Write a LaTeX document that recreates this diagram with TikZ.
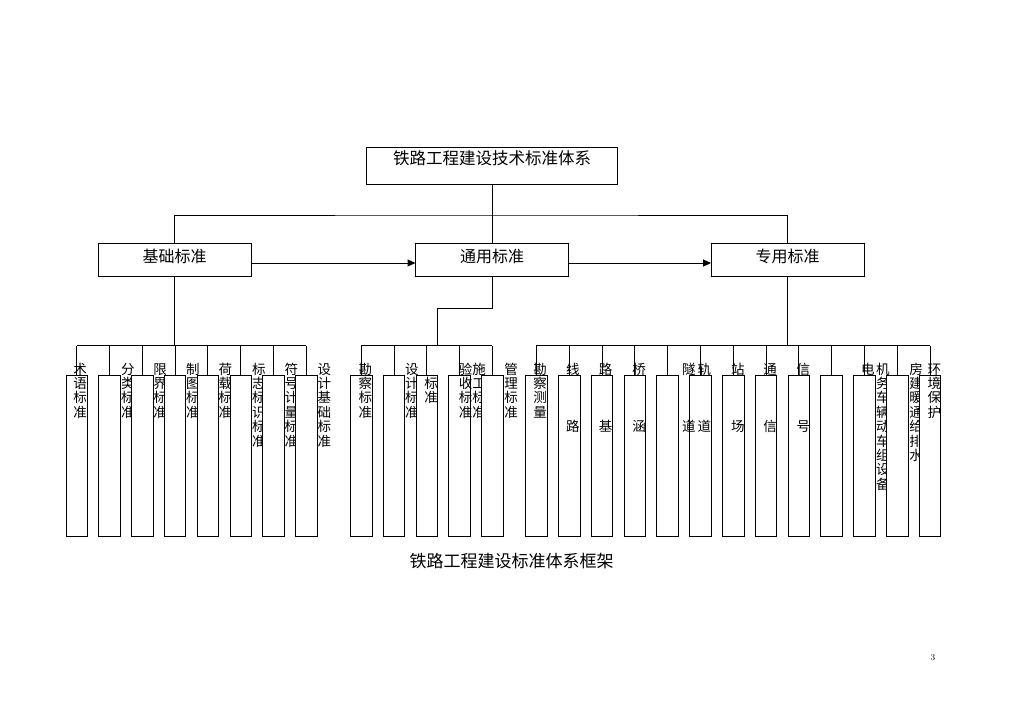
\documentclass[tikz,border=0pt]{standalone}
\usepackage{fontspec}
\newfontfamily\cjk{Noto Sans CJK SC}
\usetikzlibrary{arrows.meta}
\newcommand\vtxt[4]{%
  \foreach \c [count=\r from #3] in {#4}{%
    \node[ch] (#1-\r) at (#2, {374+(\r-1)*14.4}) {\c};%
  }%
}
\begin{document}
\begin{tikzpicture}[x=1pt,y=-1pt,
  ln/.style={line width=1pt, draw=black},
  frame/.style={draw, line width=1pt, fill=white, inner sep=0pt, outer sep=0pt},
  bbox/.style={draw, line width=1pt, fill=white, anchor=north west, minimum width=21.5pt, minimum height=161.7pt, inner sep=0pt, outer sep=0pt},
  ch/.style={anchor=base west, inner sep=0pt, outer sep=0pt, font=\cjk\fontsize{13.5}{14.4}\selectfont},
  lvl/.style={inner sep=0pt, font=\cjk\fontsize{16}{18}\selectfont},
  arr/.style={ln, -{Triangle[length=8pt,width=7pt]}}]
\useasboundingbox[fill=white] (0,0) rectangle (1024,724);

% top
\node[frame, minimum width=251pt, minimum height=37pt] (root) at (492,165.5) {};
\node[inner sep=0pt, font=\cjk\fontsize{16.5}{18}\selectfont] (rootT) at (492,158) {铁路工程建设技术标准体系};

% level 2
\node[frame, minimum width=153pt, minimum height=33pt] (jc) at (174.5,259.5) {};
\node[lvl] (jcT) at (174.5,256) {基础标准};
\node[frame, minimum width=153pt, minimum height=33pt] (ty) at (492,259.5) {};
\node[lvl] (tyT) at (492,256) {通用标准};
\node[frame, minimum width=153pt, minimum height=33pt] (zy) at (787.5,259.5) {};
\node[lvl] (zyT) at (787.5,256) {专用标准};

\coordinate (bus0) at (492,215);
\coordinate (ay) at (0,263);
\draw[ln] (root.south) -- (ty.north);
\draw[ln] (jc.north) |- (bus0) -| (zy.north);
\draw[arr] (jc.east |- ay) -- (ty.west |- ay);
\draw[arr] (ty.east |- ay) -- (zy.west |- ay);

% group 1
\node[bbox] (a1) at (66,375) {};
\vtxt{ta1}{73.3}{1}{术,语,标,准}
\node[bbox] (a2) at (98.8,375) {};
\vtxt{ta2}{121}{1}{分,类,标,准}
\node[bbox] (a3) at (131.6,375) {};
\vtxt{ta3}{153.3}{1}{限,界,标,准}
\node[bbox] (a4) at (164.4,375) {};
\vtxt{ta4}{186}{1}{制,图,标,准}
\node[bbox] (a5) at (197.2,375) {};
\vtxt{ta5}{218.6}{1}{荷,载,标,准}
\node[bbox] (a6) at (230,375) {};
\vtxt{ta6}{252}{1}{标,志,标,识,标,准}
\node[bbox] (a7) at (262.8,375) {};
\vtxt{ta7}{284.6}{1}{符,号,计,量,标,准}
\node[bbox] (a8) at (295.6,375) {};
\vtxt{ta8}{317.6}{1}{设,计,基,础,标,准}

% group 2
\node[bbox] (b1) at (350.7,375) {};
\vtxt{tb1}{358.6}{1}{勘,察,标,准}
\node[bbox] (b2) at (383.45,375) {};
\vtxt{tb2}{405}{1}{设,计,标,准}
\node[bbox] (b3) at (416.2,375) {};
\vtxt{tb3}{424.3}{2}{标,准}
\node[bbox] (b4) at (448.95,375) {};
\vtxt{tb4}{458.8}{1}{验,收,标,准}
\vtxt{tb5}{472.3}{1}{施,工,标,准}
\node[bbox] (b5) at (481.7,375) {};
\vtxt{tb6}{504.3}{1}{管,理,标,准}

% group 3
\node[bbox] (c1) at (525.7,375) {};
\vtxt{tc1}{533.3}{1}{勘,察,测,量}
\node[bbox] (c2) at (558.5,375) {};
\vtxt{tc2}{566}{1}{线}
\vtxt{tc2b}{566}{5}{路}
\node[bbox] (c3) at (591.3,375) {};
\vtxt{tc3}{598.8}{1}{路}
\vtxt{tc3b}{598.8}{5}{基}
\node[bbox] (c4) at (624.1,375) {};
\vtxt{tc4}{632.3}{1}{桥}
\vtxt{tc4b}{632.3}{5}{涵}
\node[bbox] (c5) at (656.9,375) {};
\node[bbox] (c6) at (689.7,375) {};
\vtxt{tc5}{682}{1}{隧}
\vtxt{tc5b}{682}{5}{道}
\vtxt{tc6}{697.6}{1}{轨}
\vtxt{tc6b}{697.6}{5}{道}
\node[bbox] (c7) at (722.5,375) {};
\vtxt{tc7}{731}{1}{站}
\vtxt{tc7b}{731}{5}{场}
\node[bbox] (c8) at (755.3,375) {};
\vtxt{tc8}{763.3}{1}{通}
\vtxt{tc8b}{763.3}{5}{信}
\node[bbox] (c9) at (788.1,375) {};
\vtxt{tc9}{796.6}{1}{信}
\vtxt{tc9b}{796.6}{5}{号}
\node[bbox] (c10) at (820.9,375) {};
\node[bbox] (c11) at (853.7,375) {};
\vtxt{tc11}{861}{1}{电}
\vtxt{tc11b}{876}{1}{机,务,车,辆,动,车,组,设,备}
\node[bbox] (c12) at (886.5,375) {};
\vtxt{tc12}{909.3}{1}{房,建,暖,通,给,排,水}
\node[bbox] (c13) at (919.3,375) {};
\vtxt{tc13}{927.6}{1}{环,境,保,护}

% connectors
\coordinate (g1) at (174.5,345.5);
\coordinate (e1) at (437.7,308);
\draw[ln] (jc.south) -- (jc.south |- g1);
\draw[ln] (a1.north |- g1) -- (a8.north |- g1);
\foreach \i in {1,...,8} \draw[ln] (a\i.north) -- (a\i.north |- g1);
\draw[ln] (ty.south) |- (e1) -- (e1 |- g1);
\draw[ln] (b1.north |- g1) -- (b5.north |- g1);
\foreach \i in {1,...,5} \draw[ln] (b\i.north) -- (b\i.north |- g1);
\draw[ln] (zy.south) -- (zy.south |- g1);
\draw[ln] (c1.north |- g1) -- (c13.north |- g1);
\foreach \i in {1,...,13} \draw[ln] (c\i.north) -- (c\i.north |- g1);

% caption and page number
\node[inner sep=0pt, font=\cjk\fontsize{17}{20}\selectfont] (cap) at (511.5,561) {铁路工程建设标准体系框架};
\node[inner sep=0pt, font=\fontsize{9}{10}\selectfont] (pg) at (933,658) {3};
\end{tikzpicture}
\end{document}
